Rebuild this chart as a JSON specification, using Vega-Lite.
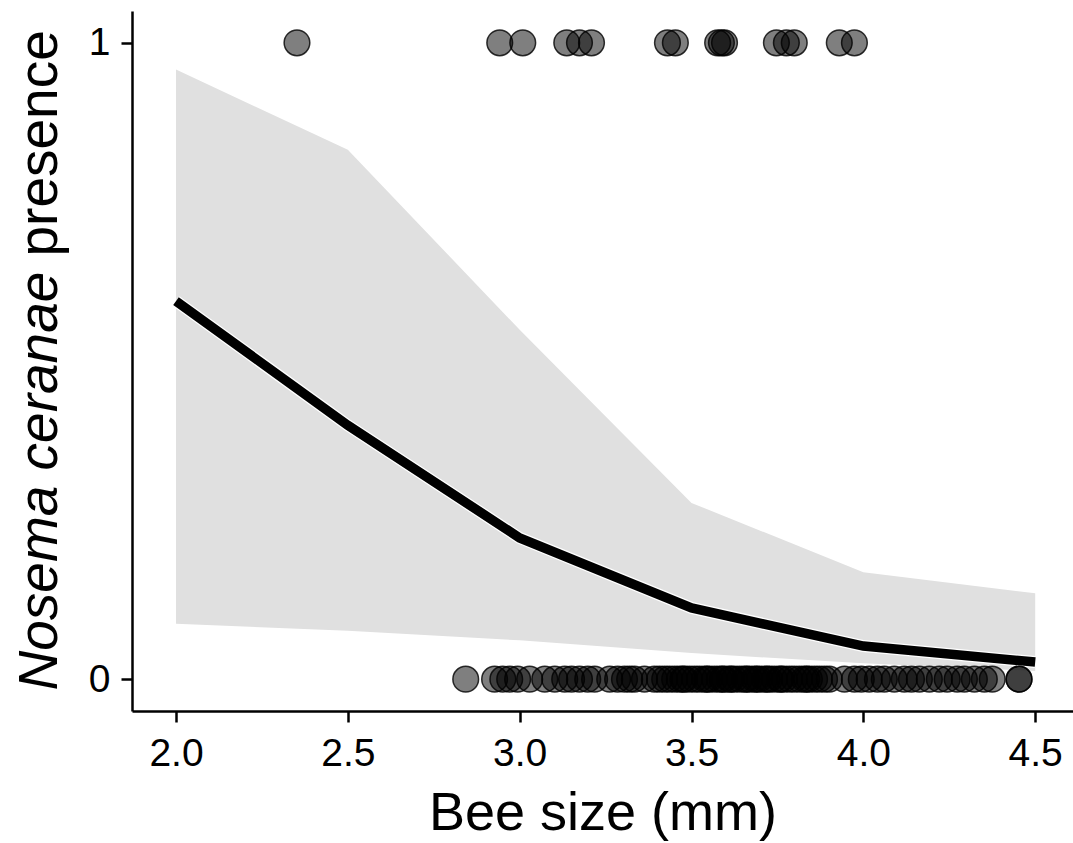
{
  "$schema": "https://vega.github.io/schema/vega-lite/v6.json",
  "width": 941,
  "height": 700,
  "autosize": {"type": "none"},
  "padding": {"left": 132, "top": 11, "right": 0, "bottom": 132},
  "background": "white",
  "config": {
    "view": {"stroke": null},
    "font": "Liberation Sans",
    "axis": {
      "domainColor": "black",
      "domainWidth": 2.5,
      "tickColor": "black",
      "tickWidth": 2.5,
      "tickSize": 11,
      "labelColor": "black",
      "labelFontSize": 39,
      "titleColor": "black",
      "titleFontWeight": "normal",
      "grid": false
    }
  },
  "datasets": {
    "fit": [
      {"size": 2.0, "fit": 0.594, "lower": 0.087, "upper": 0.958},
      {"size": 2.5, "fit": 0.399, "lower": 0.076, "upper": 0.832},
      {"size": 3.0, "fit": 0.222, "lower": 0.061, "upper": 0.549},
      {"size": 3.5, "fit": 0.112, "lower": 0.041, "upper": 0.277},
      {"size": 4.0, "fit": 0.052, "lower": 0.025, "upper": 0.168},
      {"size": 4.5, "fit": 0.027, "lower": 0.013, "upper": 0.135}
    ],
    "obs": [
      {"size": 2.352, "presence": 1}, {"size": 2.942, "presence": 1}, {"size": 3.009, "presence": 1},
      {"size": 3.137, "presence": 1}, {"size": 3.174, "presence": 1}, {"size": 3.209, "presence": 1},
      {"size": 3.430, "presence": 1}, {"size": 3.453, "presence": 1}, {"size": 3.576, "presence": 1},
      {"size": 3.587, "presence": 1}, {"size": 3.596, "presence": 1}, {"size": 3.747, "presence": 1},
      {"size": 3.776, "presence": 1}, {"size": 3.799, "presence": 1}, {"size": 3.930, "presence": 1},
      {"size": 3.974, "presence": 1},
      {"size": 2.843, "presence": 0}, {"size": 2.927, "presence": 0}, {"size": 2.951, "presence": 0},
      {"size": 2.971, "presence": 0}, {"size": 2.994, "presence": 0}, {"size": 3.029, "presence": 0},
      {"size": 3.073, "presence": 0}, {"size": 3.102, "presence": 0}, {"size": 3.131, "presence": 0},
      {"size": 3.151, "presence": 0}, {"size": 3.174, "presence": 0}, {"size": 3.198, "presence": 0},
      {"size": 3.218, "presence": 0}, {"size": 3.262, "presence": 0}, {"size": 3.285, "presence": 0},
      {"size": 3.305, "presence": 0}, {"size": 3.320, "presence": 0}, {"size": 3.334, "presence": 0},
      {"size": 3.363, "presence": 0}, {"size": 3.392, "presence": 0}, {"size": 3.407, "presence": 0},
      {"size": 3.422, "presence": 0}, {"size": 3.436, "presence": 0}, {"size": 3.451, "presence": 0},
      {"size": 3.465, "presence": 0}, {"size": 3.480, "presence": 0}, {"size": 3.494, "presence": 0},
      {"size": 3.509, "presence": 0}, {"size": 3.523, "presence": 0}, {"size": 3.538, "presence": 0},
      {"size": 3.552, "presence": 0}, {"size": 3.567, "presence": 0}, {"size": 3.581, "presence": 0},
      {"size": 3.596, "presence": 0}, {"size": 3.610, "presence": 0}, {"size": 3.625, "presence": 0},
      {"size": 3.640, "presence": 0}, {"size": 3.654, "presence": 0}, {"size": 3.669, "presence": 0},
      {"size": 3.683, "presence": 0}, {"size": 3.698, "presence": 0}, {"size": 3.712, "presence": 0},
      {"size": 3.727, "presence": 0}, {"size": 3.741, "presence": 0}, {"size": 3.756, "presence": 0},
      {"size": 3.770, "presence": 0}, {"size": 3.785, "presence": 0}, {"size": 3.799, "presence": 0},
      {"size": 3.814, "presence": 0}, {"size": 3.828, "presence": 0}, {"size": 3.843, "presence": 0},
      {"size": 3.858, "presence": 0}, {"size": 3.872, "presence": 0}, {"size": 3.887, "presence": 0},
      {"size": 3.901, "presence": 0}, {"size": 3.945, "presence": 0}, {"size": 3.974, "presence": 0},
      {"size": 3.994, "presence": 0}, {"size": 4.017, "presence": 0}, {"size": 4.041, "presence": 0},
      {"size": 4.061, "presence": 0}, {"size": 4.090, "presence": 0}, {"size": 4.119, "presence": 0},
      {"size": 4.140, "presence": 0}, {"size": 4.163, "presence": 0}, {"size": 4.192, "presence": 0},
      {"size": 4.221, "presence": 0}, {"size": 4.244, "presence": 0}, {"size": 4.273, "presence": 0},
      {"size": 4.294, "presence": 0}, {"size": 4.323, "presence": 0}, {"size": 4.352, "presence": 0},
      {"size": 4.375, "presence": 0}, {"size": 4.453, "presence": 0}, {"size": 4.453, "presence": 0},
      {"size": 3.475, "presence": 0}, {"size": 3.545, "presence": 0}, {"size": 3.615, "presence": 0},
      {"size": 3.690, "presence": 0}, {"size": 3.760, "presence": 0}, {"size": 3.835, "presence": 0},
      {"size": 3.590, "presence": 0}, {"size": 3.660, "presence": 0}, {"size": 3.720, "presence": 0}
    ]
  },
  "encoding": {
    "x": {
      "field": "size",
      "type": "quantitative",
      "scale": {"domain": [1.872, 4.61], "nice": false, "zero": false},
      "axis": {
        "values": [2.0, 2.5, 3.0, 3.5, 4.0, 4.5],
        "format": ".1f",
        "labelPadding": 12,
        "labelFlush": false,
        "title": "Bee size (mm)",
        "titleFontSize": 54,
        "titlePadding": 13
      }
    }
  },
  "layer": [
    {
      "data": {"name": "fit"},
      "mark": {"type": "area", "color": "#e0e0e0", "opacity": 1},
      "encoding": {
        "y": {
          "field": "lower",
          "type": "quantitative",
          "scale": {"domain": [-0.05, 1.05], "nice": false, "zero": false},
          "axis": {
            "orient": "left",
            "values": [0, 1],
            "format": "d",
            "labelPadding": 11,
            "title": "presence",
            "titleFontSize": 55,
            "titleAngle": 270,
            "titleAlign": "left",
            "titleBaseline": "alphabetic",
            "titleX": -76,
            "titleY": 245
          }
        },
        "y2": {"field": "upper"}
      }
    },
    {
      "data": {"name": "fit"},
      "mark": {"type": "line", "color": "white", "strokeWidth": 12},
      "encoding": {
        "y": {"field": "fit", "type": "quantitative", "axis": null}
      }
    },
    {
      "data": {"name": "fit"},
      "mark": {"type": "line", "color": "black", "strokeWidth": 9.5},
      "encoding": {
        "y": {"field": "fit", "type": "quantitative", "axis": null}
      }
    },
    {
      "data": {"name": "obs"},
      "mark": {
        "type": "point",
        "shape": "circle",
        "filled": true,
        "size": 660,
        "fill": "black",
        "fillOpacity": 0.5,
        "stroke": "black",
        "strokeOpacity": 0.8,
        "strokeWidth": 1.5
      },
      "encoding": {
        "y": {
          "field": "presence",
          "type": "quantitative",
          "axis": {
            "orient": "left",
            "labels": false,
            "ticks": false,
            "domain": false,
            "title": "Nosema ceranae",
            "titleFontSize": 55,
            "titleFontStyle": "italic",
            "titleAngle": 270,
            "titleAlign": "left",
            "titleBaseline": "alphabetic",
            "titleX": -76,
            "titleY": 679
          }
        }
      }
    }
  ],
  "resolve": {"axis": {"y": "independent"}}
}
